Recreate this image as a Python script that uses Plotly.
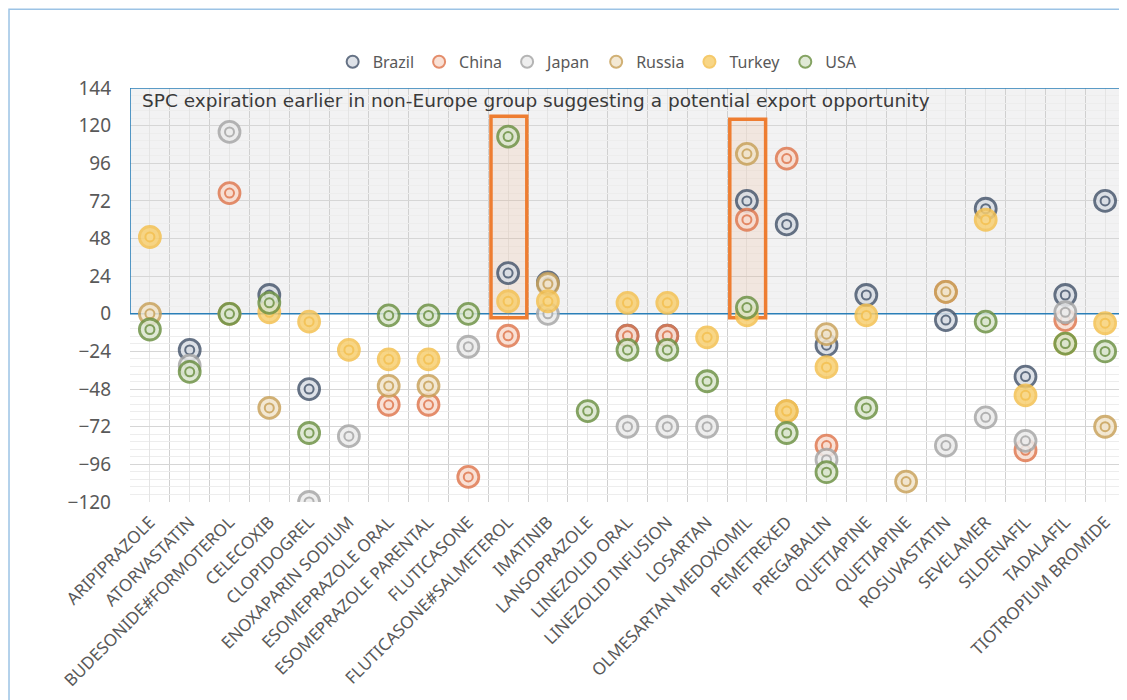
import plotly.graph_objects as go

drugs = ["ARIPIPRAZOLE", "ATORVASTATIN", "BUDESONIDE#FORMOTEROL", "CELECOXIB", "CLOPIDOGREL",
         "ENOXAPARIN SODIUM", "ESOMEPRAZOLE ORAL", "ESOMEPRAZOLE PARENTAL", "FLUTICASONE",
         "FLUTICASONE#SALMETEROL", "IMATINIB", "LANSOPRAZOLE", "LINEZOLID ORAL", "LINEZOLID INFUSION",
         "LOSARTAN", "OLMESARTAN MEDOXOMIL", "PEMETREXED", "PREGABALIN", "QUETIAPINE", "QUETIAPINE",
         "ROSUVASTATIN", "SEVELAMER", "SILDENAFIL", "TADALAFIL", "TIOTROPIUM BROMIDE"]

# months difference in SPC expiry, one value per drug (None = no data)
brazil = [None, -23, None, 12, -48, None, None, None, None, 26, 20, None, -14, -14, None,
          72, 57, -20, 12, None, -4, 67, -40, 12, 72]
china = [None, None, 77, None, None, None, -58, -58, -104, -14, None, None, -14, -14, None,
         60, 99, -84, None, None, 14, None, -87, -4, None]
japan = [None, -33, 116, None, -120, -78, None, None, -21, None, 0, None, -72, -72, -72,
         None, None, -93, None, None, -84, -66, -81, 1, None]
russia = [0, None, 0, -60, None, None, -46, -46, None, None, 19, None, None, None, None,
          102, -62, -13, None, -107, 14, None, None, None, -72]
turkey = [49, None, None, 1, -5, -23, -29, -29, None, 8, 8, None, 7, 7, -15,
          -1, -62, -34, -1, None, None, 60, -52, -19, -6]
usa = [-10, -37, 0, 7, -76, None, -1, -1, 0, 113, None, -62, -23, -23, -43,
       4, -76, -101, -60, None, None, -5, None, -19, -24]

countries = ["Brazil", "China", "Japan", "Russia", "Turkey", "USA"]
values = [brazil, china, japan, russia, turkey, usa]
colors = ["#4b5a70", "#e07a52", "#a8a8a8", "#c9a35c", "#f4c152", "#6f9347"]
fills = ["#d9dde4", "#f8dccf", "#ececec", "#f1e4cc", "#f7cf72", "#dbe6cf"]

highlight = ["FLUTICASONE#SALMETEROL", "OLMESARTAN MEDOXOMIL"]
highlight_top = [126, 124]

xs = list(range(len(drugs)))

fig = go.Figure()
for name, vals, col, fc in zip(countries, values, colors, fills):
    fig.add_trace(go.Scatter(x=xs, y=vals, mode="markers", name=name, legendgroup=name,
                             marker=dict(symbol="circle", size=21, color=fc, opacity=0.85,
                                         line=dict(color=col, width=2.8))))
    inner = "#f9d98e" if name == "Turkey" else fc
    fig.add_trace(go.Scatter(x=xs, y=vals, mode="markers", name=name, legendgroup=name,
                             showlegend=False, hoverinfo="skip",
                             marker=dict(symbol="circle", size=9, color=inner, opacity=0.85,
                                         line=dict(color=col, width=2))))

# grey "opportunity" zone above zero
fig.add_shape(type="rect", xref="x", yref="y", x0=-0.5, x1=24.45, y0=0, y1=144,
              fillcolor="#f2f2f3", line_width=0, layer="below")
fig.add_shape(type="rect", xref="x", yref="y", x0=-0.5, x1=24.45, y0=0, y1=144,
              fillcolor="rgba(0,0,0,0)", line=dict(color="#2a7fb8", width=1.6), layer="between")

for h, top in zip(highlight, highlight_top):
    i = drugs.index(h)
    fig.add_shape(type="rect", xref="x", yref="y", x0=i - 0.43, x1=i + 0.47, y0=-2.5, y1=top,
                  fillcolor="rgba(237,125,49,0.10)", line=dict(color="#ee7d31", width=3.5),
                  layer="between")

# outer border of the chart
fig.add_shape(type="rect", xref="paper", yref="paper", x0=-0.1216, x1=0.999, y0=-0.52, y1=1.19,
              line=dict(color="#9cc3e5", width=1.5), fillcolor="rgba(0,0,0,0)")

fig.add_annotation(text="SPC expiration earlier in non-Europe group suggesting a potential export opportunity",
                   xref="paper", yref="paper", x=0.01, y=0.971, xanchor="left", yanchor="middle",
                   showarrow=False, font=dict(family="DejaVu Sans", size=18.5, color="#3a3a3a"))

fig.update_layout(
    width=1119, height=692,
    margin=dict(l=122, r=2, t=80, b=198),
    plot_bgcolor="white", paper_bgcolor="white",
    font=dict(family="Noto Sans", color="#595959"),
    legend=dict(orientation="h", x=0.47, xanchor="center", y=1.063, yanchor="middle",
                font=dict(size=16, color="#595959"), itemwidth=30, itemsizing="constant",
                bgcolor="rgba(0,0,0,0)"),
    showlegend=True,
)
fig.update_xaxes(range=[-0.5, 24.5], tickmode="array", tickvals=xs, ticktext=drugs,
                 tickangle=-45, tickfont=dict(size=17, color="#595959"), automargin=False,
                 showgrid=True, gridcolor="#e4e4e4", gridwidth=1, zeroline=False,
                 showline=False, ticks="", ticklabelstandoff=6,
                 minor=dict(tickmode="linear", tick0=-0.5, dtick=1, showgrid=True,
                            gridcolor="#d0d0d0", gridwidth=1.3))
fig.update_yaxes(range=[-120, 144], dtick=24, tick0=0, tickfont=dict(size=19, color="#595959"),
                 automargin=False,
                 showgrid=True, gridcolor="#d6d6d6", gridwidth=1.2, zeroline=False, ticks="",
                 ticklabelstandoff=18,
                 minor=dict(dtick=4.8, showgrid=True, gridcolor="#ededed", gridwidth=1))

fig.write_html("out.html")
